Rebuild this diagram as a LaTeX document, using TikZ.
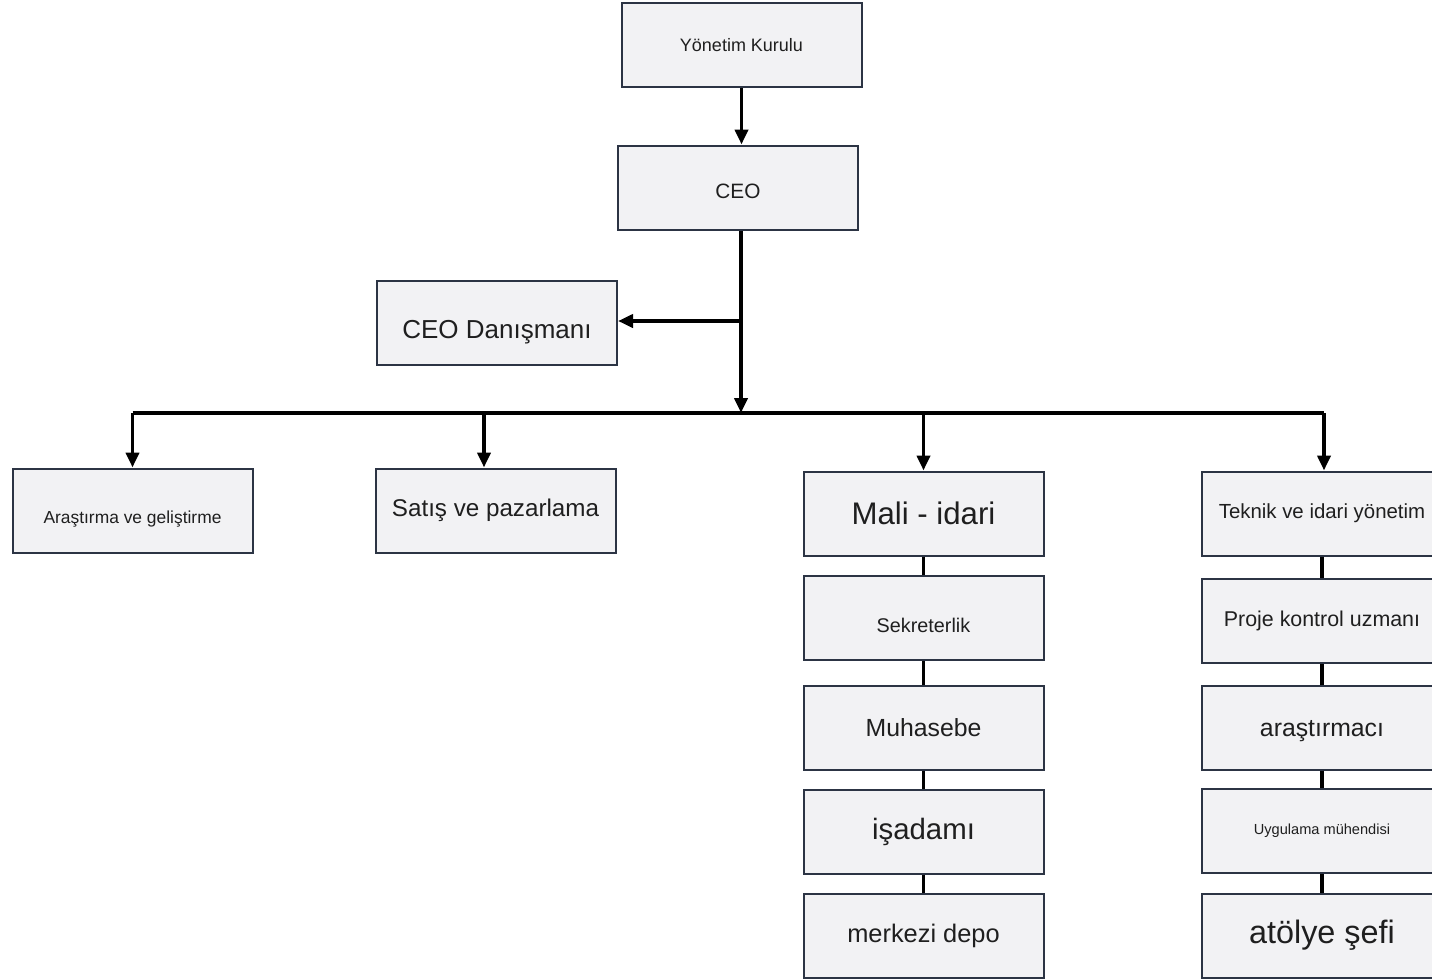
\documentclass[tikz,border=0pt]{standalone}
\usepackage{fontspec}
\setmainfont{Liberation Sans}
\usetikzlibrary{arrows.meta, positioning, calc}
\definecolor{boxline}{RGB}{44,52,68}
\definecolor{boxfill}{RGB}{242,242,244}

\begin{document}
\begin{tikzpicture}[x=0.5pt, y=-0.5pt, >={Triangle[length=7.5pt, width=6.5pt]},
		unit/.style={draw=boxline, line width=1pt, fill=boxfill, rectangle, minimum width=120pt, minimum height=42pt, inner sep=2pt, text=black!88},
		link/.style={line width=1.9pt, black}]
	\useasboundingbox (0,0) rectangle (1432,980);
	\fill[white] (0,0) rectangle (1432,980);

	% top of the chart
	\node[unit, font=\fontsize{9}{11}\selectfont] (yk) at (741.5, 45) {Yönetim Kurulu};
	\node[unit, font=\fontsize{10.4}{12}\selectfont, text height=10.5pt, text depth=0pt] (ceo) at (738, 187.5) {CEO};
	\node[unit, font=\fontsize{13}{15}\selectfont, text height=15.5pt, text depth=0pt] (danis) at (497, 322.5) {CEO Danışmanı};

	\coordinate (bus) at (741, 413);
	\coordinate (split) at (741, 321);

	% departments
	\node[unit, font=\fontsize{8.7}{10}\selectfont, text height=12.5pt, text depth=0pt] (arge) at (132.5, 510.5) {Araştırma ve geliştirme};
	\node[unit, font=\fontsize{12.1}{14}\selectfont] (satis) at (495.5, 510.5) {Satış ve pazarlama};
	\node[unit, font=\fontsize{15.6}{18}\selectfont] (mali) at (923.5, 513.5) {Mali - idari};
	\node[unit, font=\fontsize{10.2}{12}\selectfont] (teknik) at (1322, 513.5) {Teknik ve idari yönetim};

	% mali - idari column
	\node[unit, font=\fontsize{9.9}{12}\selectfont, text height=14pt, text depth=0pt] (sekr) at (923.5, 618) {Sekreterlik};
	\node[unit, font=\fontsize{12.4}{14}\selectfont] (muh) at (923.5, 727.5) {Muhasebe};
	\node[unit, font=\fontsize{14.7}{17}\selectfont] (isad) at (923.5, 831.5) {işadamı};
	\node[unit, font=\fontsize{12.7}{15}\selectfont] (depo) at (923.5, 935.5) {merkezi depo};

	% teknik column
	\node[unit, font=\fontsize{10.7}{13}\selectfont] (proje) at (1322, 621) {Proje kontrol uzmanı};
	\node[unit, font=\fontsize{12.4}{14}\selectfont, text height=9pt, text depth=0pt] (arast) at (1322, 727.5) {araştırmacı};
	\node[unit, font=\fontsize{7.3}{9}\selectfont] (uyg) at (1322, 831) {Uygulama mühendisi};
	\node[unit, font=\fontsize{16.2}{19}\selectfont] (atolye) at (1322, 935.5) {atölye şefi};

	\draw[link, ->] (yk.south) -- (yk.south |- ceo.north);
	\draw[link, ->] (bus |- ceo.south) -- (bus);
	\draw[link, ->] (split) -- (split -| danis.east);

	\draw[link] (arge.north |- bus) -- ($(teknik.north |- bus)+(2,0)$);
	\draw[link, ->] (arge.north |- bus) -- (arge.north);
	\draw[link, ->] ($(satis.north |- bus)+(-11.5,0)$) -- ($(satis.north)+(-11.5,0)$);
	\draw[link, ->] (mali.north |- bus) -- (mali.north);
	\draw[link, ->] ($(teknik.north |- bus)+(2,0)$) -- ($(teknik.north)+(2,0)$);

	\foreach \a/\b in {mali/sekr, sekr/muh, muh/isad, isad/depo, teknik/proje, proje/arast, arast/uyg, uyg/atolye}
		\draw[link] (\a.south) -- (\b.north);
\end{tikzpicture}
\end{document}
